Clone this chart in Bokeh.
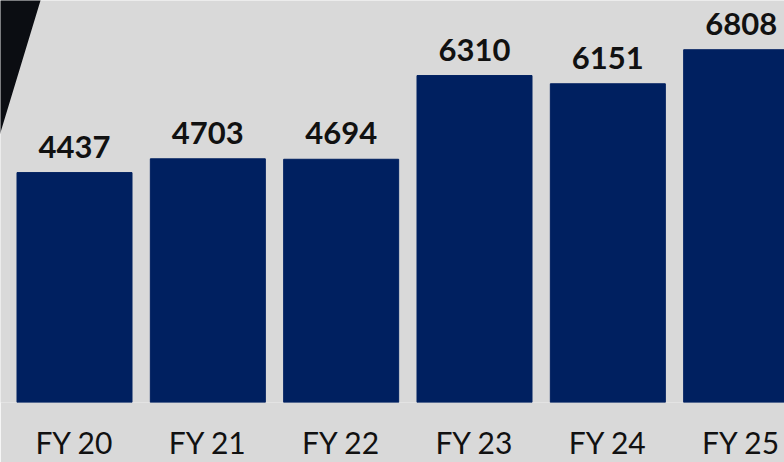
from bokeh.plotting import figure
from bokeh.models import Range1d, FixedTicker, ColumnDataSource
from bokeh.core.properties import value
from bokeh.embed import file_html
from bokeh.resources import INLINE

categories = ["FY 20", "FY 21", "FY 22", "FY 23", "FY 24", "FY 25"]
values = [4437, 4703, 4694, 6310, 6151, 6808]
value_labels = [str(v) for v in values]

positions = list(range(len(categories)))

BG = "#d9d9d9"
BAR = "#002060"

x_start, x_end = -0.555, 5.325
y_start, y_end = 0, 7758

p = figure(width=784, height=462, output_backend="svg", toolbar_location=None,
           x_range=Range1d(x_start, x_end), y_range=Range1d(y_start, y_end),
           min_border=0, min_border_left=0, min_border_right=0,
           min_border_top=0, min_border_bottom=0)
p.background_fill_color = BG
p.border_fill_color = BG
p.outline_line_color = None
p.grid.visible = False
p.yaxis.visible = False

# decorative dark wedge in the top-left corner
px_per_x = 784 / (x_end - x_start)
px_per_y = 402 / (y_end - y_start)
def to_data(px, py):
    return x_start + px / px_per_x, y_end - py / px_per_y
corner = [to_data(-5, -5), to_data(41, -5), to_data(40, 0), to_data(0, 132), to_data(-5, 150)]
p.patch([c[0] for c in corner], [c[1] for c in corner], fill_color="#0b0d12", line_color=None)

src = ColumnDataSource(dict(x=positions, top=values, lab=value_labels))
p.vbar(x="x", top="top", width=0.8625, source=src, fill_color=BAR, line_color=BAR)
p.text(x="x", y="top", text="lab", source=src, text_align="center",
       text_baseline="alphabetic", y_offset=-26,
       text_font=value("Lato"), text_font_style="bold",
       text_font_size="31px", text_color="#111111")

ax = p.xaxis[0]
ax.ticker = FixedTicker(ticks=positions)
ax.major_label_overrides = {i: c for i, c in zip(positions, categories)}
ax.axis_line_color = None
ax.major_tick_line_color = None
ax.minor_tick_line_color = None
ax.major_label_text_font = "Lato"
ax.major_label_text_font_size = "30px"
ax.major_label_text_color = "#111111"
ax.major_label_standoff = 15

open("out.html", "w").write(file_html(p, INLINE))
